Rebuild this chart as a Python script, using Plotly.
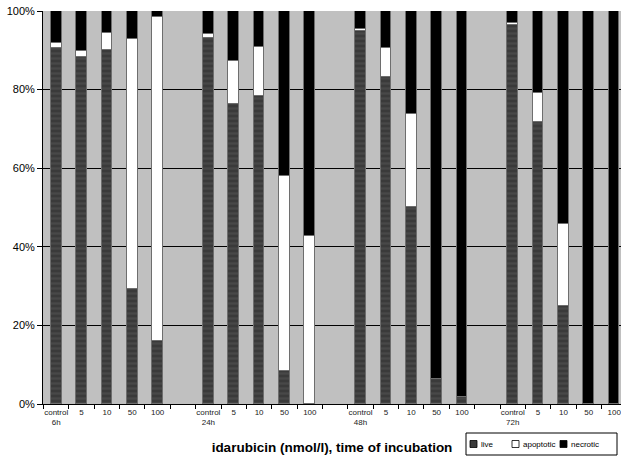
import plotly.graph_objects as go

groups = ["6h", "24h", "48h", "72h"]
doses = ["control", "5", "10", "50", "100"]

live = [90.5, 88.3, 90.2, 29.3, 16.0,
        93.1, 76.3, 78.5, 8.3, 0.0,
        94.9, 83.2, 50.1, 6.4, 1.7,
        96.5, 71.8, 24.9, 0.0, 0.0]
apoptotic = [1.3, 1.5, 4.1, 63.5, 82.4,
             1.0, 11.0, 12.3, 49.6, 42.7,
             0.6, 7.4, 23.8, 0.0, 0.0,
             0.4, 7.4, 21.0, 0.0, 0.0]
necrotic = [8.2, 10.2, 5.7, 7.2, 1.6,
            5.9, 12.7, 9.2, 42.1, 57.3,
            4.5, 9.4, 26.1, 93.6, 98.3,
            3.1, 20.8, 54.1, 100.0, 100.0]

series_names = ["live", "apoptotic", "necrotic"]
series_colors = ["#3a3a3a", "#ffffff", "#000000"]

# positions: 5 bars per group plus one empty slot between groups
xpos = []
ticktext = []
for gi, g in enumerate(groups):
    for di, d in enumerate(doses):
        xpos.append(gi * 6 + di)
        ticktext.append(f"{d}<br>{g}" if d == "control" else d)

font = "Liberation Sans, Arial, sans-serif"
edge = dict(color="#6e6e6e", width=1)

fig = go.Figure()
fig.add_bar(x=xpos, y=live, name=series_names[0], width=0.42,
            marker=dict(color=series_colors[0], line=edge,
                        pattern=dict(shape="-", fgcolor="#555555", bgcolor=series_colors[0],
                                     size=5, solidity=0.45)))
fig.add_bar(x=xpos, y=apoptotic, name=series_names[1], width=0.42,
            marker=dict(color=series_colors[1], line=edge))
fig.add_bar(x=xpos, y=necrotic, name=series_names[2], width=0.42,
            marker=dict(color=series_colors[2], line=edge))

# compact legend box drawn in paper coordinates (below plot, right side)
W, H = 621, 460
L, R, T, B = 43, 0, 11, 56
pw, ph = W - L - R, H - T - B
def px(x):  # pixel -> paper x
    return (x - L) / pw
def py(y):  # pixel -> paper y
    return (H - B - y) / ph

shapes = [dict(type="rect", xref="paper", yref="paper",
               x0=px(466), x1=px(617), y0=py(455), y1=py(433),
               line=dict(color="black", width=1), fillcolor="white", layer="above")]
annotations = []
item_x = [470, 512, 560]
for nm, col, ix in zip(series_names, series_colors, item_x):
    shapes.append(dict(type="rect", xref="paper", yref="paper",
                       x0=px(ix), x1=px(ix + 7), y0=py(447.5), y1=py(440.5),
                       line=dict(color="black", width=0.8), fillcolor=col, layer="above"))
    annotations.append(dict(text=nm, xref="paper", yref="paper", x=px(ix + 9), y=py(444),
                            xanchor="left", yanchor="middle", showarrow=False,
                            font=dict(size=8, color="black")))

fig.update_layout(
    barmode="stack",
    width=W, height=H,
    margin=dict(l=L, r=R, t=T, b=B, pad=0, autoexpand=False),
    paper_bgcolor="white",
    plot_bgcolor="#c0c0c0",
    font=dict(family=font, color="black"),
    showlegend=False,
    bargap=0,
    shapes=shapes,
    annotations=annotations,
)
fig.update_xaxes(
    range=[-0.52, 22.27], automargin=False,
    tickmode="array", tickvals=xpos, ticktext=ticktext,
    ticks="", tickfont=dict(size=8, color="#222"), ticklabeloverflow="allow",
    showgrid=False, zeroline=False,
    showline=True, linecolor="black", linewidth=1,
    minor=dict(tickmode="linear", tick0=-0.5, dtick=1, ticks="outside",
               ticklen=4, tickcolor="black", showgrid=False),
    title=dict(text="<b>idarubicin (nmol/l), time of incubation</b>",
               font=dict(size=13.5), standoff=16),
)
fig.update_yaxes(
    range=[0, 100], tickmode="linear", tick0=0, dtick=20, ticksuffix="%",
    ticks="outside", ticklen=5, tickcolor="black", tickfont=dict(size=11),
    showgrid=True, gridcolor="black", gridwidth=1, automargin=False,
    zeroline=False, showline=True, linecolor="black", linewidth=1,
)

fig.write_html("out.html",
               config={"displayModeBar": False},
               post_script="document.body.style.margin='0';document.body.style.overflow='hidden';")
